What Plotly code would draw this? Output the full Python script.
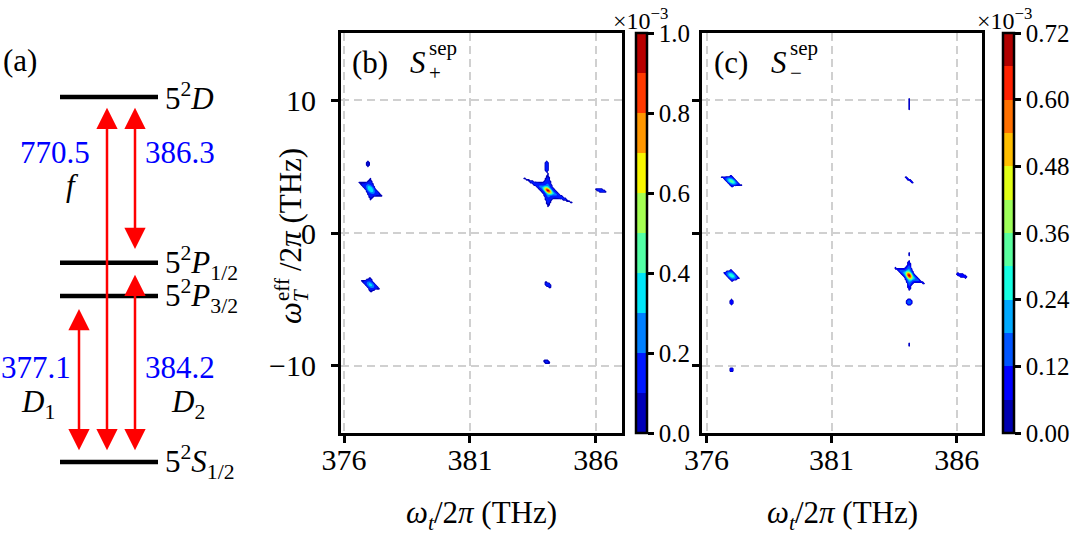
import numpy as np
import plotly.graph_objects as go

W, H = 1071, 534
FONT = "Liberation Serif, Times New Roman, Times, serif"

# ---------------- data ----------------
# (a) schematic level diagram (schematic energy units)
level_labels = ["5<sup>2</sup><i>S</i><sub>1/2</sub>", "5<sup>2</sup><i>P</i><sub>3/2</sub>",
                "5<sup>2</sup><i>P</i><sub>1/2</sub>", "5<sup>2</sup><i>D</i>"]
level_energy = [0.0, 5.0, 6.0, 11.0]
arrow_freq = ["770.5", "386.3", "377.1", "384.2"]          # THz
arrow_name = ["<i>f</i>", "", "<i>D</i><sub>1</sub>", "<i>D</i><sub>2</sub>"]
arrow_low = [0.31, 6.37, 0.31, 0.31]
arrow_high = [10.67, 10.67, 4.61, 5.64]

# (b),(c) frequency grids (THz)
omega_t = np.round(np.arange(375.8, 387.1 + 1e-9, 0.05), 2)
omega_T = np.round(np.arange(-15.0, 15.0 + 1e-9, 0.1), 1)
x_ticks = [376, 381, 386]
y_ticks = [-10, 0, 10]
y_ticktext = ["\u221210", "0", "10"]

# peaks: centre, amplitude (x1e-3), arm half-extents (THz)
pb_x = [377.05, 376.95, 384.10, 384.05, 386.20, 377.05, 384.10, 384.05]
pb_y = [3.3, 5.2, 3.2, 5.0, 3.2, -3.9, -3.9, -9.7]
pb_amp = [0.40, 0.11, 1.0, 0.16, 0.14, 0.34, 0.13, 0.11]
pb_arm1 = [(0.45, -0.5), (0.04, 0.0), (-1.0, 0.98), (0.07, 0.0), (0.18, -0.12), (0.38, -0.3), (0.12, -0.1), (0.1, -0.05)]
pb_arm2 = [(0.0, 0.8), (0.0, 0.2), (0.0, 1.3), (0.0, 0.45), (0.04, 0.1), (0.0, 0.55), (0.0, 0.15), (0.0, 0.12)]

pc_x = [377.0, 377.0, 377.0, 377.0, 384.1, 384.1, 384.1, 384.1, 386.2, 384.1, 384.1]
pc_y = [3.9, -3.2, -5.2, -10.3, -3.2, -5.2, 4.0, 9.7, -3.2, -8.4, -1.6]
pc_amp = [0.34, 0.30, 0.11, 0.09, 0.72, 0.16, 0.10, 0.09, 0.12, 0.09, 0.09]
pc_arm1 = [(0.4, -0.3), (0.35, -0.25), (0.06, 0.0), (0.05, 0.0), (-0.6, 0.6), (0.12, 0.0), (0.13, -0.18),
           (0.03, 0.0), (0.17, -0.12), (0.03, 0.0), (0.03, 0.0)]
pc_arm2 = [(0.0, 0.45), (0.0, 0.45), (0.0, 0.15), (0.0, 0.1), (0.0, 1.2), (0.0, 0.22), (0.03, 0.03),
           (0.0, 0.3), (0.04, 0.1), (0.0, 0.08), (0.0, 0.1)]

levels_b = (0.0, 1.0, 0.1)
levels_c = (0.0, 0.72, 0.06)
cbar_ticks_b = [0.0, 0.2, 0.4, 0.6, 0.8, 1.0]
cbar_ticks_c = [0.0, 0.12, 0.24, 0.36, 0.48, 0.60, 0.72]
threshold = 0.08
core_width = 1.6


# ---------------- helpers ----------------
def spectrum(xs, ys, amps, arms1, arms2):
    X, Y = np.meshgrid(omega_t, omega_T)
    Z = np.zeros_like(X)
    for x0, y0, A, a1, a2 in zip(xs, ys, amps, arms1, arms2):
        L = np.sqrt((A / threshold) ** 2 - 1)
        M = np.array([[a1[0], a2[0]], [a1[1], a2[1]]]) / L
        Mi = np.linalg.inv(M)
        dx, dy = X - x0, Y - y0
        p = Mi[0, 0] * dx + Mi[0, 1] * dy
        q = Mi[1, 0] * dx + Mi[1, 1] * dy
        star = 1 / np.sqrt((1 + p ** 2) * (1 + q ** 2))
        core = np.exp(-(p ** 2 + q ** 2) / (2 * core_width ** 2))
        Z = np.maximum(Z, A * np.maximum(star, core))
    Z = np.where(Z < threshold, -0.05, Z)
    return np.round(Z, 4)


def jet(v):
    r = np.interp(v, [0, 0.35, 0.66, 0.89, 1], [0, 0, 1, 1, 0.5])
    g = np.interp(v, [0, 0.125, 0.375, 0.64, 0.91, 1], [0, 0, 1, 1, 0, 0])
    b = np.interp(v, [0, 0.11, 0.34, 0.65, 1], [0.5, 1, 1, 0, 0])
    return "rgb(%d,%d,%d)" % (round(r * 255), round(g * 255), round(b * 255))


def band_colors(lv):
    n = int(round((lv[1] - lv[0]) / lv[2]))
    return [jet((k + 0.5) / n) for k in range(n)]


def contour_scale(colors):
    n1 = len(colors) + 1
    cs = [[0.0, "rgba(255,255,255,0)"], [0.5 / n1, "rgba(255,255,255,0)"]]
    for k, c in enumerate(colors):
        lo = (k + 0.5) / n1
        hi = (k + 1.5) / n1 if k < len(colors) - 1 else 1.0
        cs += [[lo, c], [hi, c]]
    return cs


def bar_scale(colors):
    n = len(colors)
    cs = []
    for k, c in enumerate(colors):
        cs += [[k / n, c], [(k + 1) / n, c]]
    return cs


def cbar(xleft, ticks, fmt):
    return dict(x=xleft / W, xanchor="left", xref="paper", y=1 - 433 / H, yanchor="bottom", yref="paper",
                len=400 / H, lenmode="fraction", thickness=11, thicknessmode="pixels",
                outlinewidth=2.5, outlinecolor="black", xpad=0, ypad=0,
                tickmode="array", tickvals=ticks, ticktext=[fmt.format(t) for t in ticks],
                ticks="outside", ticklen=6, tickwidth=2.5, tickcolor="black",
                tickfont=dict(family=FONT, size=25, color="black"))


Zb = spectrum(pb_x, pb_y, pb_amp, pb_arm1, pb_arm2)
Zc = spectrum(pc_x, pc_y, pc_amp, pc_arm1, pc_arm2)

fig = go.Figure()
for Z, lv, xa, ya, cx, ticks, fmt in [(Zb, levels_b, "x", "y", 636, cbar_ticks_b, "{:.1f}"),
                                      (Zc, levels_c, "x2", "y2", 1003, cbar_ticks_c, "{:.2f}")]:
    cols = band_colors(lv)
    fig.add_trace(go.Contour(x=omega_t, y=omega_T, z=Z, xaxis=xa, yaxis=ya, autocontour=False,
                             contours=dict(start=lv[0], end=lv[1], size=lv[2], coloring="fill", showlines=False),
                             line=dict(width=0), colorscale=contour_scale(cols), showscale=False,
                             hoverinfo="skip"))
    fig.add_trace(go.Scatter(x=[None], y=[None], mode="markers", xaxis=xa, yaxis=ya, showlegend=False,
                             hoverinfo="skip",
                             marker=dict(color=[lv[0]], cmin=lv[0], cmax=lv[1], colorscale=bar_scale(cols),
                                         showscale=True, colorbar=cbar(cx, ticks, fmt))))

# (a) level lines
lx, ly = [], []
for e in level_energy:
    lx += [60, 158, None]
    ly += [e, e, None]
fig.add_trace(go.Scatter(x=lx, y=ly, mode="lines", xaxis="x3", yaxis="y3", showlegend=False,
                         line=dict(color="black", width=4.5), hoverinfo="skip"))

ann = []
big = dict(family=FONT, size=31, color="black")
blue = dict(family=FONT, size=31, color="blue")
small = dict(family=FONT, size=21, color="black")

# level labels
for lab, e in zip(level_labels, level_energy):
    ann.append(dict(x=163, y=e, xref="x3", yref="y3", text=lab, showarrow=False, xanchor="left",
                    yanchor="middle", font=big))
# arrows
arrow_x = [107, 135, 79, 135]
for xa_, lo, hi in zip(arrow_x, arrow_low, arrow_high):
    ann.append(dict(x=xa_, y=hi, ax=xa_, ay=lo, xref="x3", yref="y3", axref="x3", ayref="y3", text="",
                    showarrow=True, arrowside="end+start", arrowhead=2, startarrowhead=2, arrowsize=1.7,
                    startarrowsize=1.7, arrowwidth=2.5, arrowcolor="red", standoff=0, startstandoff=0))


def px(x):
    return x / W


def py(y):
    return 1 - y / H


freq_pos = [(55, 152), (180, 152), (36, 367), (180, 367)]
name_pos = [(72, 185), None, (38, 404), (188, 404)]
for f, nm, fp, npos in zip(arrow_freq, arrow_name, freq_pos, name_pos):
    ann.append(dict(x=px(fp[0]), y=py(fp[1]), xref="paper", yref="paper", text=f, showarrow=False,
                    xanchor="center", yanchor="middle", font=blue))
    if npos:
        ann.append(dict(x=px(npos[0]), y=py(npos[1]), xref="paper", yref="paper", text=nm, showarrow=False,
                        xanchor="center", yanchor="middle", font=big))
ann.append(dict(x=px(20), y=py(60), xref="paper", yref="paper", text="(a)", showarrow=False,
                xanchor="center", yanchor="middle", font=big))

# panel labels (b), (c)
for off, lab, sub in [(0, "(b)", "+"), (361, "(c)", "\u2212")]:
    ann.append(dict(x=px(370 + off), y=py(62), xref="paper", yref="paper", text=lab, showarrow=False,
                    xanchor="center", yanchor="middle", font=big))
    ann.append(dict(x=px(418 + off), y=py(62), xref="paper", yref="paper", text="<i>S</i>", showarrow=False,
                    xanchor="center", yanchor="middle", font=big))
    ann.append(dict(x=px(427 + off), y=py(48), xref="paper", yref="paper", text="sep", showarrow=False,
                    xanchor="left", yanchor="middle", font=small))
    ann.append(dict(x=px(427 + off), y=py(73), xref="paper", yref="paper", text=sub, showarrow=False,
                    xanchor="left", yanchor="middle", font=small))
    ann.append(dict(x=px(640 + off + 3 * (off > 0)), y=py(19), xref="paper", yref="paper",
                    text="\u00d710<sup>\u22123</sup>", showarrow=False, xanchor="center", yanchor="middle",
                    font=dict(family=FONT, size=24, color="black")))
    ann.append(dict(x=px(481 + off), y=py(515), xref="paper", yref="paper",
                    text="<i>\u03c9</i><sub><i>t</i></sub>/2<i>\u03c0</i> (THz)", showarrow=False,
                    xanchor="center", yanchor="middle", font=big))

# y-axis title pieces (rotated)
ann.append(dict(x=px(290), y=py(313), xref="paper", yref="paper", text="<i>\u03c9</i>", textangle=-90,
                showarrow=False, xanchor="center", yanchor="middle", font=big))
ann.append(dict(x=px(282), y=py(290), xref="paper", yref="paper", text="eff", textangle=-90,
                showarrow=False, xanchor="center", yanchor="middle", font=small))
ann.append(dict(x=px(301), y=py(296), xref="paper", yref="paper", text="<i>T</i>", textangle=-90,
                showarrow=False, xanchor="center", yanchor="middle", font=small))
ann.append(dict(x=px(290), y=py(210), xref="paper", yref="paper", text="/2<i>\u03c0</i> (THz)", textangle=-90,
                showarrow=False, xanchor="center", yanchor="middle", font=big))

axc = dict(showline=True, linewidth=3, linecolor="black", mirror=True, ticks="outside", ticklen=7,
           tickwidth=3, tickcolor="black", showgrid=True, gridcolor="rgb(208,208,208)", gridwidth=2,
           griddash="8px,5px", zeroline=False, tickfont=dict(family=FONT, size=30, color="black"))
ydom = [1 - 433 / H, 1 - 33 / H]
fig.update_layout(
    width=W, height=H, margin=dict(l=0, r=0, t=0, b=0, autoexpand=False), paper_bgcolor="white",
    plot_bgcolor="white", showlegend=False,
    xaxis=dict(domain=[341 / W, 622 / W], range=[375.88, 387.04], tickvals=x_ticks, anchor="y",
               ticklabelstandoff=-9, **axc),
    yaxis=dict(domain=ydom, range=[-15.06, 15.06], tickvals=y_ticks, ticktext=y_ticktext, anchor="x",
               ticklabelstandoff=9, **axc),
    xaxis2=dict(domain=[702 / W, 982 / W], range=[375.82, 387.01], tickvals=x_ticks, anchor="y2",
                ticklabelstandoff=-9, **axc),
    yaxis2=dict(domain=ydom, range=[-15.06, 15.06], tickvals=y_ticks, showticklabels=False, anchor="x2",
                **axc),
    xaxis3=dict(domain=[0, 280 / W], range=[0, 280], visible=False, anchor="y3"),
    yaxis3=dict(domain=[0, 1], range=[-2.17, 13.92], visible=False, anchor="x3"),
    annotations=ann,
)
fig.write_html("out.html")
